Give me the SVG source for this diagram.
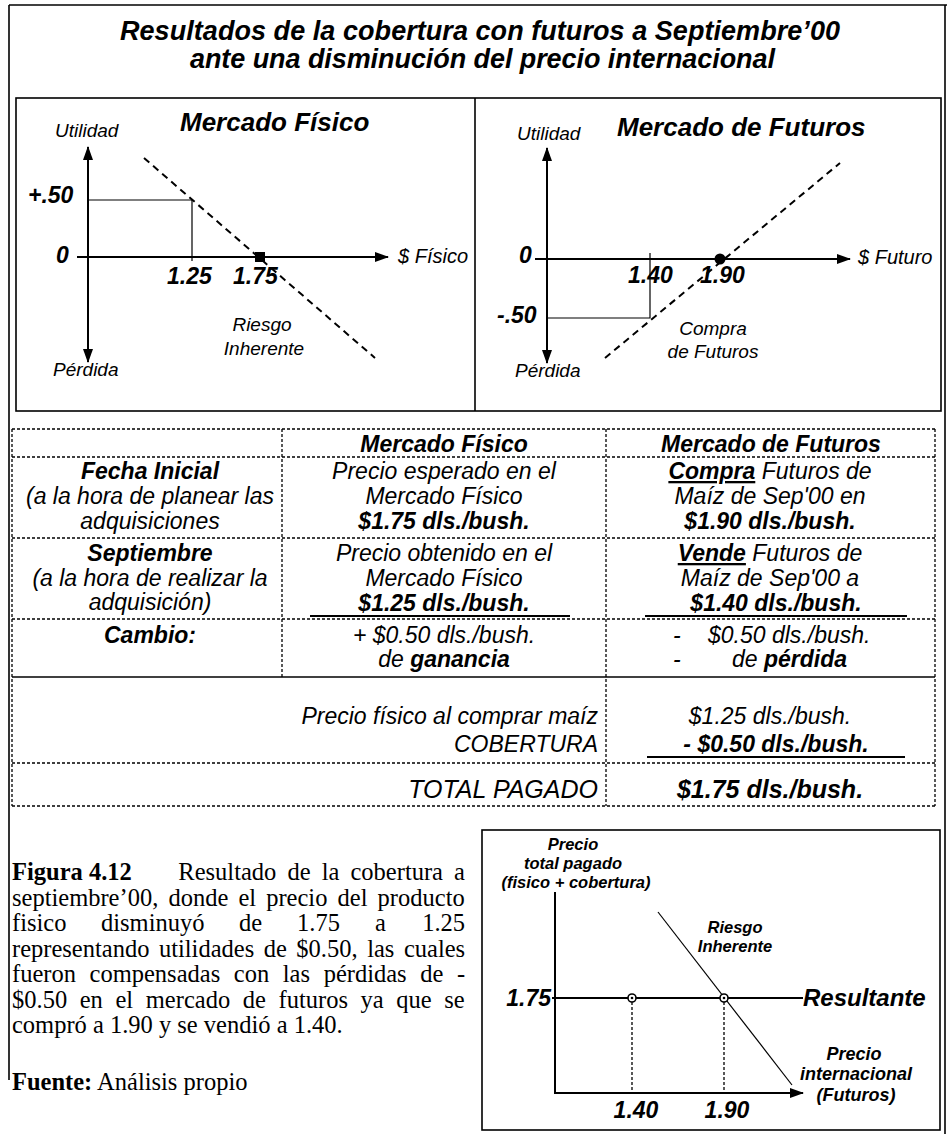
<svg xmlns="http://www.w3.org/2000/svg" width="947" height="1134" viewBox="0 0 947 1134">
<style>
text{font-family:"Liberation Sans",Arial,sans-serif;font-style:italic;fill:#000}
.b{font-weight:bold}
.t{font-size:23px}
.lab{font-size:19px}
.num{font-size:23px;font-weight:bold}
.c{text-anchor:middle}
.e{text-anchor:end}
.cap{font-family:"Liberation Serif","Times New Roman",serif;font-style:normal;font-size:24.5px}
.sm{font-size:16.5px;font-weight:bold;text-anchor:middle}
.ax{stroke:#000;stroke-width:2;fill:none}
.thin{stroke:#000;stroke-width:1.2;fill:none}
.dash{stroke:#000;stroke-width:2;stroke-dasharray:7 5;fill:none}
.tb{stroke:#000;stroke-width:1.3;stroke-dasharray:3 2;fill:none}
.ul{stroke:#000;stroke-width:2.2}
.frame{stroke:#000;stroke-width:1.6;fill:none}
</style>
<defs>
<marker id="arr" viewBox="0 0 14 10" refX="13" refY="5" markerWidth="14" markerHeight="10" markerUnits="userSpaceOnUse" orient="auto-start-reverse">
<path d="M0,0 L14,5 L0,10 z" fill="#000"/>
</marker>
</defs>

<g id="outer-frame">
<line class="frame" x1="9" y1="5" x2="947" y2="5"/>
<line class="frame" x1="9" y1="5" x2="9" y2="1080" stroke-width="2.5"/>
<line class="frame" x1="945" y1="5" x2="945" y2="1134"/>
</g>

<g id="title">
<text class="b" x="120" y="40" font-size="27" textLength="720" lengthAdjust="spacing">Resultados de la cobertura con futuros a Septiembre’00</text>
<text class="b" x="190" y="68" font-size="27" textLength="585" lengthAdjust="spacing">ante una disminución del precio internacional</text>
</g>

<g id="chart-frames">
<rect class="frame" x="16" y="98" width="925" height="313"/>
<line class="frame" x1="475" y1="98" x2="475" y2="411"/>
</g>

<g id="chart-fisico">
<text class="b" x="180" y="131" font-size="26">Mercado Físico</text>
<text class="lab" x="55" y="137">Utilidad</text>
<text class="lab" x="53" y="376">Pérdida</text>
<line class="ax" x1="88" y1="257" x2="88" y2="147" marker-end="url(#arr)"/>
<line class="ax" x1="88" y1="257" x2="88" y2="362" marker-end="url(#arr)"/>
<line class="ax" x1="77" y1="257" x2="388" y2="257" marker-end="url(#arr)"/>
<polyline class="thin" points="88,200 192,200 192,261"/>
<line class="dash" x1="144" y1="158" x2="375" y2="358"/>
<rect x="255" y="252" width="10" height="10" fill="#000"/>
<text class="num" x="28" y="203">+.50</text>
<text class="num" x="56" y="263">0</text>
<text class="num" x="167" y="284">1.25</text>
<text class="num" x="233" y="284">1.75</text>
<text x="398" y="263" font-size="20">$ Físico</text>
<text class="lab c" x="262" y="331">Riesgo</text>
<text class="lab c" x="264" y="355">Inherente</text>
</g>

<g id="chart-futuros">
<text class="b" x="617" y="136" font-size="26">Mercado de Futuros</text>
<text class="lab" x="517" y="140">Utilidad</text>
<text class="lab" x="515" y="377">Pérdida</text>
<line class="ax" x1="547" y1="259" x2="547" y2="148" marker-end="url(#arr)"/>
<line class="ax" x1="547" y1="259" x2="547" y2="363" marker-end="url(#arr)"/>
<line class="ax" x1="535" y1="259" x2="850" y2="259" marker-end="url(#arr)"/>
<polyline class="thin" points="547,318 650,318 650,253"/>
<line class="dash" x1="605" y1="358" x2="840" y2="163"/>
<circle cx="720" cy="259" r="5.5" fill="#000"/>
<text class="num" x="519" y="263">0</text>
<text class="num" x="628" y="283">1.40</text>
<text class="num" x="700" y="283">1.90</text>
<text class="num" x="497" y="323">-.50</text>
<text x="858" y="264" font-size="20">$ Futuro</text>
<text class="lab c" x="713" y="335">Compra</text>
<text class="lab c" x="713" y="358">de Futuros</text>
</g>

<g id="table-grid">
<line class="tb" x1="12" y1="429" x2="935" y2="429"/>
<line class="tb" x1="12" y1="457" x2="935" y2="457"/>
<line class="tb" x1="12" y1="538" x2="935" y2="538"/>
<line class="tb" x1="12" y1="619" x2="935" y2="619"/>
<line stroke="#000" stroke-width="1.6" x1="12" y1="677" x2="935" y2="677"/>
<line class="tb" x1="12" y1="763" x2="935" y2="763"/>
<line class="tb" x1="12" y1="806" x2="935" y2="806"/>
<line class="tb" x1="12" y1="429" x2="12" y2="806"/>
<line class="tb" x1="282" y1="429" x2="282" y2="677"/>
<line class="tb" x1="606" y1="429" x2="606" y2="806"/>
<line class="tb" x1="935" y1="429" x2="935" y2="806"/>
</g>

<g id="table-header">
<text class="t b c" x="444" y="452">Mercado Físico</text>
<text class="t b c" x="771" y="452">Mercado de Futuros</text>
</g>

<g id="row-fecha-inicial">
<text class="t b c" x="150" y="479">Fecha Inicial</text>
<text class="t c" x="150" y="504">(a la hora de planear las</text>
<text class="t c" x="150" y="529">adquisiciones</text>
<text class="t c" x="444" y="479">Precio esperado en el</text>
<text class="t c" x="444" y="504">Mercado Físico</text>
<text class="t b c" x="444" y="529">$1.75 dls./bush.</text>
<text class="t c" x="770" y="479"><tspan class="b" text-decoration="underline">Compra</tspan> Futuros de</text>
<text class="t c" x="770" y="504">Maíz de Sep'00 en</text>
<text class="t b c" x="770" y="529">$1.90 dls./bush.</text>
</g>

<g id="row-septiembre">
<text class="t b c" x="150" y="561">Septiembre</text>
<text class="t c" x="150" y="586">(a la hora de realizar la</text>
<text class="t c" x="150" y="610">adquisición)</text>
<text class="t c" x="444" y="561">Precio obtenido en el</text>
<text class="t c" x="444" y="586">Mercado Físico</text>
<text class="t b c" x="444" y="611">$1.25 dls./bush.</text>
<line class="ul" x1="310" y1="616" x2="570" y2="616"/>
<text class="t c" x="770" y="561"><tspan class="b" text-decoration="underline">Vende</tspan> Futuros de</text>
<text class="t c" x="770" y="586">Maíz de Sep'00 a</text>
<text class="t b c" x="776" y="611">$1.40 dls./bush.</text>
<line class="ul" x1="645" y1="616" x2="907" y2="616"/>
</g>

<g id="row-cambio">
<text class="t b c" x="150" y="643">Cambio:</text>
<text class="t c" x="444" y="643">+ $0.50 dls./bush.</text>
<text class="t c" x="444" y="667">de <tspan class="b">ganancia</tspan></text>
<text class="t" x="673" y="643">-</text>
<text class="t" x="708" y="643">$0.50 dls./bush.</text>
<text class="t" x="673" y="667">-</text>
<text class="t" x="732" y="667">de <tspan class="b">pérdida</tspan></text>
</g>

<g id="row-cobertura">
<text class="t e" x="598" y="724">Precio físico al comprar maíz</text>
<text class="t e" x="598" y="752">COBERTURA</text>
<text class="t c" x="770" y="724">$1.25 dls./bush.</text>
<text class="t b c" x="776" y="752">- $0.50 dls./bush.</text>
<line class="ul" x1="647" y1="757" x2="905" y2="757"/>
</g>

<g id="row-total">
<text class="e" x="598" y="798" font-size="25">TOTAL PAGADO</text>
<text class="b c" x="770" y="798" font-size="25">$1.75 dls./bush.</text>
</g>

<g id="caption">
<text class="cap b" x="12" y="880" font-weight="bold">Figura 4.12</text>
<text class="cap" x="465" y="880" text-anchor="end" word-spacing="5">Resultado de la cobertura a</text>
<text class="cap" x="12" y="905.5" word-spacing="4">septiembre’00, donde el precio del producto</text>
<text class="cap" x="12" y="931">fisico</text>
<text class="cap" x="101" y="931">disminuyó</text>
<text class="cap" x="239" y="931">de</text>
<text class="cap" x="297" y="931">1.75</text>
<text class="cap" x="375" y="931">a</text>
<text class="cap" x="465" y="931" text-anchor="end">1.25</text>
<text class="cap" x="12" y="956.5" word-spacing="3.4">representando utilidades de $0.50, las cuales</text>
<text class="cap" x="12" y="982" word-spacing="7.5">fueron compensadas con las pérdidas de -</text>
<text class="cap" x="12" y="1007.5" word-spacing="6.5">$0.50 en el mercado de futuros ya que se</text>
<text class="cap" x="12" y="1033">compró a 1.90 y se vendió a 1.40.</text>
<text class="cap" x="12" y="1090"><tspan font-weight="bold">Fuente:</tspan> Análisis propio</text>
</g>

<g id="chart-resultante">
<rect class="frame" x="482" y="830" width="458" height="300"/>
<text class="sm" x="573" y="850">Precio</text>
<text class="sm" x="573" y="869">total pagado</text>
<text class="sm" x="576" y="888">(fisico + cobertura)</text>
<line class="ax" x1="555" y1="892" x2="555" y2="1093"/>
<line class="ax" x1="554" y1="1093" x2="803" y2="1093" marker-end="url(#arr)"/>
<line class="ax" x1="552" y1="998" x2="803" y2="998" stroke-width="1.6"/>
<line class="thin" x1="658" y1="912" x2="792" y2="1085" stroke-width="1.6"/>
<line class="tb" x1="632" y1="1002" x2="632" y2="1093" stroke-width="1.6"/>
<line class="tb" x1="724" y1="1002" x2="724" y2="1093" stroke-width="1.6"/>
<circle cx="632" cy="998" r="4" fill="#fff" stroke="#000" stroke-width="1.6"/>
<circle cx="632" cy="998" r="1.3" fill="#000"/>
<circle cx="724" cy="998" r="4" fill="#fff" stroke="#000" stroke-width="1.6"/>
<circle cx="724" cy="998" r="1.3" fill="#000"/>
<text class="num e" x="551" y="1006" font-size="24">1.75</text>
<text class="b" x="803" y="1006" font-size="24">Resultante</text>
<text class="sm" x="735" y="933" font-size="17">Riesgo</text>
<text class="sm" x="735" y="952" font-size="17">Inherente</text>
<text class="b c" x="854" y="1060" font-size="18">Precio</text>
<text class="b c" x="856" y="1080" font-size="18">internacional</text>
<text class="b c" x="856" y="1101" font-size="18">(Futuros)</text>
<text class="num c" x="636" y="1118">1.40</text>
<text class="num c" x="727" y="1118">1.90</text>
</g>
</svg>
